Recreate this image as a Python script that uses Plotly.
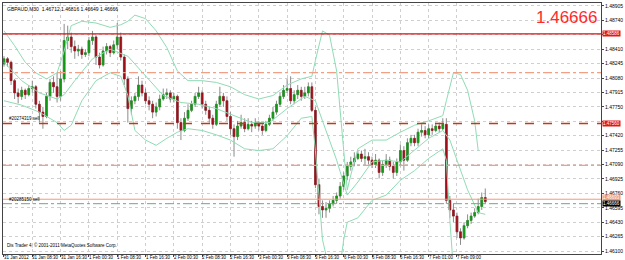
import plotly.graph_objects as go

# ---------------- data ----------------
bar_index = list(range(137))
opens = [1.4824,1.4830,1.4826,1.4805,1.4791,1.4787,1.4794,1.4789,1.4796,1.4798,
 1.4778,1.4769,1.4764,1.4787,1.4803,1.4798,1.4787,1.4807,1.4851,1.4855,
 1.4844,1.4839,1.4841,1.4835,1.4837,1.4851,1.4855,1.4832,1.4823,1.4839,
 1.4844,1.4837,1.4846,1.4855,1.4832,1.4807,1.4773,1.4782,1.4787,1.4800,
 1.4791,1.4782,1.4778,1.4769,1.4775,1.4784,1.4789,1.4791,1.4784,1.4787,
 1.4757,1.4748,1.4762,1.4771,1.4778,1.4787,1.4791,1.4778,1.4771,1.4762,
 1.4755,1.4778,1.4787,1.4782,1.4764,1.4750,1.4741,1.4753,1.4757,1.4750,
 1.4755,1.4753,1.4757,1.4753,1.4748,1.4755,1.4762,1.4769,1.4778,1.4787,
 1.4794,1.4796,1.4782,1.4789,1.4794,1.4787,1.4791,1.4798,1.4771,1.4686,
 1.4661,1.4657,1.4659,1.4664,1.4668,1.4673,1.4684,1.4696,1.4707,1.4712,
 1.4716,1.4721,1.4716,1.4718,1.4714,1.4709,1.4714,1.4700,1.4709,1.4714,
 1.4707,1.4700,1.4712,1.4725,1.4714,1.4734,1.4739,1.4734,1.4746,1.4748,
 1.4743,1.4750,1.4748,1.4753,1.4750,1.4755,1.4668,1.4657,1.4650,1.4632,
 1.4625,1.4639,1.4645,1.4650,1.4654,1.4661,1.46712]
highs = [1.4833,1.4832,1.4828,1.4807,1.4796,1.4798,1.4796,1.4800,1.4805,1.4800,
 1.4782,1.4775,1.4791,1.4807,1.4810,1.4814,1.4816,1.4870,1.4868,1.4860,
 1.4851,1.4846,1.4844,1.4841,1.4855,1.4862,1.4857,1.4837,1.4844,1.4848,
 1.4846,1.4851,1.4871,1.4860,1.4835,1.4810,1.4787,1.4791,1.4810,1.4805,
 1.4796,1.4787,1.4782,1.4780,1.4789,1.4796,1.4796,1.4794,1.4791,1.4789,
 1.4762,1.4769,1.4778,1.4782,1.4791,1.4798,1.4794,1.4782,1.4775,1.4766,
 1.4782,1.4798,1.4791,1.4787,1.4769,1.4755,1.4759,1.4766,1.4762,1.4762,
 1.4759,1.4762,1.4759,1.4757,1.4759,1.4766,1.4775,1.4782,1.4791,1.4800,
 1.4807,1.4810,1.4794,1.4800,1.4798,1.4798,1.4803,1.4803,1.4775,1.4693,
 1.4668,1.4666,1.4668,1.4673,1.4677,1.4689,1.4700,1.4712,1.4718,1.4723,
 1.4725,1.4725,1.4727,1.4723,1.4718,1.4721,1.4716,1.4714,1.4721,1.4718,
 1.4712,1.4716,1.4732,1.4730,1.4739,1.4743,1.4743,1.4750,1.4755,1.4753,
 1.4755,1.4755,1.4757,1.4757,1.4762,1.4762,1.4673,1.4664,1.4654,1.4636,
 1.4643,1.4652,1.4654,1.4659,1.4670,1.4677,1.46816]
lows = [1.4821,1.4821,1.4800,1.4784,1.4779,1.4783,1.4784,1.4787,1.4791,1.4773,
 1.4757,1.4750,1.4762,1.4782,1.4791,1.4780,1.4782,1.4803,1.4841,1.4837,
 1.4830,1.4833,1.4830,1.4832,1.4833,1.4846,1.4823,1.4819,1.4821,1.4835,
 1.4832,1.4835,1.4841,1.4828,1.4800,1.4757,1.4766,1.4778,1.4782,1.4787,
 1.4778,1.4771,1.4762,1.4764,1.4771,1.4782,1.4784,1.4780,1.4780,1.4750,
 1.4737,1.4746,1.4759,1.4769,1.4775,1.4784,1.4773,1.4766,1.4757,1.4750,
 1.4753,1.4775,1.4775,1.4759,1.4743,1.4718,1.4737,1.4750,1.4746,1.4748,
 1.4746,1.4750,1.4748,1.4743,1.4746,1.4753,1.4759,1.4766,1.4775,1.4784,
 1.4791,1.4778,1.4778,1.4784,1.4782,1.4784,1.4787,1.4769,1.4682,1.4652,
 1.4648,1.4648,1.4654,1.4661,1.4664,1.4670,1.4680,1.4691,1.4702,1.4707,
 1.4714,1.4712,1.4709,1.4709,1.4705,1.4705,1.4693,1.4696,1.4705,1.4702,
 1.4693,1.4696,1.4707,1.4702,1.4712,1.4730,1.4730,1.4730,1.4741,1.4739,
 1.4739,1.4743,1.4746,1.4746,1.4748,1.4664,1.4648,1.4643,1.4625,1.4617,
 1.4623,1.4636,1.4641,1.4648,1.4652,1.4657,1.46649]
closes = [1.4830,1.4826,1.4805,1.4791,1.4787,1.4794,1.4789,1.4796,1.4798,1.4778,
 1.4769,1.4764,1.4787,1.4803,1.4798,1.4787,1.4807,1.4851,1.4855,1.4844,
 1.4839,1.4841,1.4835,1.4837,1.4851,1.4855,1.4832,1.4823,1.4839,1.4844,
 1.4837,1.4846,1.4855,1.4832,1.4807,1.4773,1.4782,1.4787,1.4800,1.4791,
 1.4782,1.4778,1.4769,1.4775,1.4784,1.4789,1.4791,1.4784,1.4787,1.4757,
 1.4748,1.4762,1.4771,1.4778,1.4787,1.4791,1.4778,1.4771,1.4762,1.4755,
 1.4778,1.4787,1.4782,1.4764,1.4750,1.4741,1.4753,1.4757,1.4750,1.4755,
 1.4753,1.4757,1.4753,1.4748,1.4755,1.4762,1.4769,1.4778,1.4787,1.4794,
 1.4796,1.4782,1.4789,1.4794,1.4787,1.4791,1.4798,1.4771,1.4686,1.4661,
 1.4657,1.4659,1.4664,1.4668,1.4673,1.4684,1.4696,1.4707,1.4712,1.4716,
 1.4721,1.4716,1.4718,1.4714,1.4709,1.4714,1.4700,1.4709,1.4714,1.4707,
 1.4700,1.4712,1.4725,1.4714,1.4734,1.4739,1.4734,1.4746,1.4748,1.4743,
 1.4750,1.4748,1.4753,1.4750,1.4755,1.4668,1.4657,1.4650,1.4632,1.4625,
 1.4639,1.4645,1.4650,1.4654,1.4661,1.46712,1.46666]

upper_x = [0,3,6,9,12,15,17,19,22,26,30,33,35,37,40,43,46,49,52,56,60,64,68,72,76,80,84,87,88,90,92,94,96,97,98,100,104,108,112,116,120,124,125,127,129,131,133,134]
upper_y = [1.4862,1.4845,1.4826,1.4814,1.4807,1.4814,1.4839,1.4868,1.4873,1.4871,1.4866,1.4869,1.4873,1.4880,1.4876,1.4862,1.4843,1.4816,1.4805,1.4805,1.4803,1.4798,1.4789,1.4784,1.4788,1.4800,1.4807,1.4810,1.4828,1.4862,1.4857,1.4816,1.4725,1.4680,1.4697,1.4727,1.4737,1.4737,1.4746,1.4754,1.4759,1.4765,1.4782,1.4814,1.4812,1.4794,1.4759,1.4725]
middle_x = [0,5,10,15,17,20,25,30,35,40,45,50,55,60,65,70,75,80,85,88,90,94,97,100,104,108,112,116,120,124,126,128,131,134,136]
middle_y = [1.4826,1.4805,1.4791,1.4784,1.4789,1.4805,1.4830,1.4841,1.4833,1.4811,1.4788,1.4780,1.4778,1.4773,1.4765,1.4757,1.4757,1.4773,1.4787,1.4782,1.4759,1.4714,1.4674,1.4689,1.4712,1.4714,1.4712,1.4725,1.4739,1.4748,1.4737,1.4714,1.4680,1.4654,1.4652]
lower_x = [0,5,10,15,17,19,22,26,30,33,35,37,40,43,46,49,52,56,60,64,68,72,76,80,84,87,88,89,90,92,95,96,97,100,104,108,112,116,120,124,125,126,127]
lower_y = [1.4782,1.4777,1.4769,1.4757,1.4748,1.4754,1.4782,1.4805,1.4814,1.4810,1.4788,1.4748,1.4737,1.4731,1.4739,1.4746,1.4750,1.4748,1.4743,1.4737,1.4727,1.4725,1.4727,1.4742,1.4762,1.4764,1.4725,1.4668,1.4623,1.4588,1.4594,1.4623,1.4643,1.4648,1.4668,1.4674,1.4691,1.4702,1.4716,1.4727,1.4714,1.4645,1.4588]

x_tick_bars = [0,8,16,24,32,40,48,56,64,72,80,88,96,104,112,120,128]
x_tick_labels = ["31 Jan 2012","31 Jan 08:30","31 Jan 16:30","1 Feb 00:30","1 Feb 08:30",
                 "1 Feb 16:30","2 Feb 00:30","2 Feb 08:30","2 Feb 16:30","3 Feb 00:30",
                 "3 Feb 08:30","3 Feb 16:30","6 Feb 00:30","6 Feb 08:30","6 Feb 16:30",
                 "7 Feb 01:00","7 Feb 09:00"]
y_tick_values = [1.46100,1.46265,1.46430,1.46595,1.46760,1.46925,1.47090,1.47255,1.47420,
                 1.47585,1.47750,1.47915,1.48080,1.48245,1.48410,1.48575,1.48740,1.48905]

level_red = 1.48586
level_sell_1 = 1.47560
level_dashdot_hi = 1.48141
level_dashdot_lo = 1.47081
level_ask = 1.46693
level_order_2 = 1.46642
last_price = 1.46666
title_text = "GBPAUD,M30  1.46712 1.46816 1.46649 1.46666"

# ---------------- figure ----------------
FONT = "Liberation Sans, Arial, sans-serif"
fig = go.Figure()

band_color = "#8fdcb4"
for bx, by in ((upper_x, upper_y), (middle_x, middle_y), (lower_x, lower_y)):
    fig.add_trace(go.Scatter(x=bx, y=by, mode="lines",
                             line=dict(color=band_color, width=1), hoverinfo="skip"))

# wicks
fig.add_trace(go.Candlestick(x=bar_index, open=opens, high=highs, low=lows, close=closes,
                             increasing=dict(line=dict(color="#8c8c8c", width=1), fillcolor="#8c8c8c"),
                             decreasing=dict(line=dict(color="#8c8c8c", width=1), fillcolor="#8c8c8c"),
                             whiskerwidth=0))
# bodies
body_hi = [max(o, c) for o, c in zip(opens, closes)]
body_lo = [min(o, c) for o, c in zip(opens, closes)]
fig.add_trace(go.Candlestick(x=bar_index, open=opens, high=body_hi, low=body_lo, close=closes,
                             increasing=dict(line=dict(color="#129a12", width=0.5), fillcolor="#129a12"),
                             decreasing=dict(line=dict(color="#a0101a", width=0.5), fillcolor="#a0101a"),
                             whiskerwidth=0))

shapes = []
def hline(y, color, dash, width=1):
    shapes.append(dict(type="line", xref="paper", x0=0, x1=1, yref="y", y0=y, y1=y,
                       line=dict(color=color, dash=dash, width=width), layer="above"))
hline(level_red, "#d81010", "solid", 1.3)
hline(level_dashdot_hi, "#f2a083", "dashdot", 1.2)
hline(level_sell_1, "#c03a18", "dash", 1.3)
hline(level_dashdot_lo, "#f2a083", "dashdot", 1.2)
hline(level_ask, "#f29a7c", "solid", 1)
hline(level_order_2, "#6fa87e", "dashdot", 1)

ann = []
for b, t in zip(x_tick_bars, x_tick_labels):
    ann.append(dict(x=b, y=0, xref="x", yref="paper", text=t, showarrow=False,
                    xanchor="left", yanchor="top", yshift=0, xshift=-1, borderpad=0,
                    font=dict(size=4.5, color="#000", family=FONT)))

def axis_box(y, text, bg, shift=0, fg="#ffffff"):
    ann.append(dict(x=1, y=y, xref="paper", yref="y", text=text, showarrow=False,
                    xanchor="left", yanchor="middle", xshift=1, yshift=shift, bgcolor=bg,
                    borderpad=0, font=dict(size=4.5, color=fg, family=FONT)))
axis_box(level_red, "1.48586", "#e01818")
axis_box(level_sell_1, "1.47560", "#e01818")
axis_box(level_ask, "1.46693", "#f29a7c", 1.5)
axis_box(last_price, "1.46666", "#000000", -1.5)

ann.append(dict(x=0.004, y=1, xref="paper", yref="paper", text=title_text, showarrow=False,
                xanchor="left", yanchor="top", yshift=-1, font=dict(size=5, color="#000", family=FONT)))
ann.append(dict(x=1, y=1, xref="paper", yref="paper", text="1.46666", showarrow=False,
                xanchor="right", yanchor="top", xshift=-2, yshift=-3,
                font=dict(size=17, color="#ff2a2a", family=FONT)))
ann.append(dict(x=0.006, y=level_sell_1, xref="paper", yref="y", text="#20274319 sell",
                showarrow=False, xanchor="left", yanchor="bottom", yshift=0,
                font=dict(size=4.5, color="#000", family=FONT)))
ann.append(dict(x=0.006, y=level_ask, xref="paper", yref="y", text="#20285150 sell",
                showarrow=False, xanchor="left", yanchor="middle", yshift=0,
                font=dict(size=4.5, color="#000", family=FONT)))
ann.append(dict(x=0.004, y=0, xref="paper", yref="paper",
                text="Dis Trader 4, \u00a9 2001-2011 MetaQuotes Software Corp.", showarrow=False,
                xanchor="left", yanchor="bottom", yshift=4, font=dict(size=4.5, color="#000", family=FONT)))

hidden_ticks = {1.48575, 1.47585}
fig.update_layout(
    width=625, height=260, margin=dict(l=2, r=19, t=2, b=6),
    paper_bgcolor="#ffffff", plot_bgcolor="#ffffff", showlegend=False,
    shapes=shapes, annotations=ann,
    xaxis=dict(range=[-0.28, 168.7], rangeslider=dict(visible=False), tickvals=x_tick_bars,
               showticklabels=False, ticks="outside", ticklen=2, tickcolor="#444",
               showgrid=True, gridcolor="#cfcfcf", griddash="dot", gridwidth=1,
               showline=True, linecolor="#444", linewidth=1, mirror=True, zeroline=False,
               fixedrange=True),
    yaxis=dict(range=[1.46066, 1.48939], side="right", tickvals=y_tick_values,
               ticktext=["" if v in hidden_ticks else f"{v:.5f}" for v in y_tick_values],
               ticks="outside", ticklen=2, tickcolor="#444",
               tickfont=dict(size=5, color="#000", family=FONT),
               showgrid=True, gridcolor="#cfcfcf", griddash="dot", gridwidth=1,
               showline=True, linecolor="#444", linewidth=1, mirror=True, zeroline=False,
               fixedrange=True),
)
fig.write_html("out.html")
